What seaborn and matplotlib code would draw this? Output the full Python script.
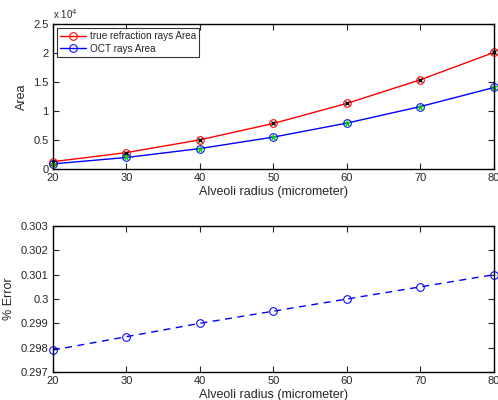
import numpy as np
import matplotlib
matplotlib.use("Agg")
import matplotlib.pyplot as plt
import seaborn as sns

radius = [20, 30, 40, 50, 60, 70, 80]
true_area = [1257, 2827, 5027, 7854, 11310, 15394, 20106]
oct_area = [883, 1983, 3524, 5502, 7917, 10768, 14054]
pct_error = [0.2979, 0.29845, 0.2990, 0.2995, 0.3000, 0.3005, 0.3010]

sns.set_style("white")
plt.rcParams['font.family'] = ['Liberation Sans', 'DejaVu Sans']
plt.rcParams['font.size'] = 8
plt.rcParams['xtick.direction'] = 'in'
plt.rcParams['ytick.direction'] = 'in'

fig = plt.figure(figsize=(4.98, 4.0), dpi=100)
ax1 = fig.add_axes([0.106, 0.5775, 0.886, 0.3625])
ax2 = fig.add_axes([0.106, 0.07, 0.886, 0.365])

sns.lineplot(x=radius, y=true_area, ax=ax1, color='red', marker='o', markersize=5.5,
             markerfacecolor='none', markeredgecolor='red', linewidth=1,
             label='true refraction rays Area')
sns.lineplot(x=radius, y=oct_area, ax=ax1, color='blue', marker='o', markersize=5.5,
             markerfacecolor='none', markeredgecolor='blue', linewidth=1,
             label='OCT rays Area')
ax1.plot(radius, true_area, linestyle='none', marker='x', color='black', markersize=3.5, mew=1)
ax1.plot(radius, oct_area, linestyle='none', marker='*', color='#00cc00', markersize=4.5, mew=0.5)

ax1.set_xlim(20, 80)
ax1.set_ylim(0, 25000)
ax1.set_yticks([0, 5000, 10000, 15000, 20000, 25000])
ax1.set_yticklabels(['0', '0.5', '1', '1.5', '2', '2.5'])
ax1.text(0.0, 1.02, r'x 10$^4$', transform=ax1.transAxes, fontsize=7, ha='left', va='bottom')
ax1.set_xlabel('Alveoli radius (micrometer)', fontsize=9, labelpad=2)
ax1.set_ylabel('Area', fontsize=9)
leg = ax1.legend(loc='upper left', frameon=True, fancybox=False, fontsize=7.2,
                 handlelength=2.6, borderaxespad=0.4, borderpad=0.3, labelspacing=0.25,
                 handletextpad=0.4)
leg.get_frame().set_edgecolor('black')
leg.get_frame().set_linewidth(0.8)

sns.lineplot(x=radius, y=pct_error, ax=ax2, color='blue', marker='o', markersize=5.5,
             markerfacecolor='none', markeredgecolor='blue', linewidth=1)
ax2.lines[0].set_dashes([5, 4])
ax2.set_xlim(20, 80)
ax2.set_ylim(0.297, 0.303)
ax2.set_yticks([0.297, 0.298, 0.299, 0.300, 0.301, 0.302, 0.303])
ax2.set_yticklabels(['0.297', '0.298', '0.299', '0.3', '0.301', '0.302', '0.303'])
ax2.set_xlabel('Alveoli radius (micrometer)', fontsize=9, labelpad=2)
ax2.set_ylabel('% Error', fontsize=9)

for ax in (ax1, ax2):
    ax.set_xticks(radius)
    for s in ax.spines.values():
        s.set_visible(True)
        s.set_color('black')
        s.set_linewidth(1)
    ax.tick_params(direction='in', length=4, width=0.8, top=True, right=True,
                   bottom=True, left=True, labelsize=8, pad=3)
    for m in ax.lines:
        m.set_clip_on(False)

fig.savefig('out.png', dpi=100)
